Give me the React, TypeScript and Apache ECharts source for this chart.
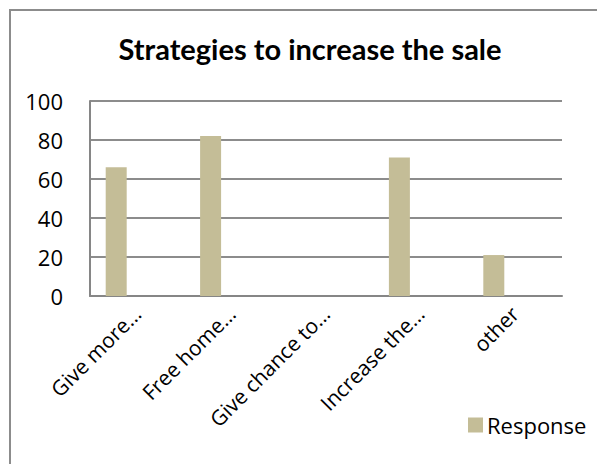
import React, { useEffect, useRef } from "react";
import * as echarts from "echarts";

const categories = ["Give more…", "Free home…", "Give chance to…", "Increase the…", "other"];
const responseValues = [66, 82, 0, 71, 21];
const blankSeriesA = [null, null, null, null, null];
const blankSeriesB = [null, null, null, null, null];
const yTicks = [0, 20, 40, 60, 80, 100];

export default function App() {
  const ref = useRef<HTMLDivElement>(null);
  useEffect(() => {
    if (!ref.current) return;
    const chart = echarts.init(ref.current, null, { renderer: "svg" });
    chart.setOption({
      animation: false,
      backgroundColor: "#ffffff",
      title: {
        text: "Strategies to increase the sale",
        left: 305,
        top: 29,
        textAlign: "center",
        textStyle: { fontFamily: "Lato", fontWeight: "bold", fontSize: 29, color: "#000" },
      },
      graphic: [
        {
          type: "rect",
          shape: { x: 10, y: 10, width: 700, height: 700 },
          style: { fill: "none", stroke: "#8c8c8c", lineWidth: 2 },
          silent: true,
        },
      ],
      legend: {
        data: ["Response"],
        left: 463,
        top: 409,
        itemWidth: 15,
        itemHeight: 15,
        itemGap: 5,
        icon: "rect",
        textStyle: { fontFamily: "Open Sans", fontSize: 22, color: "#000", padding: [0, 0, 0, -1] },
      },
      grid: { left: 90, top: 101, right: 35, bottom: 168, containLabel: false },
      xAxis: {
        type: "category",
        data: categories,
        axisLine: { show: true, lineStyle: { color: "#868686", width: 2 } },
        axisTick: { show: false },
        axisLabel: {
          rotate: 45,
          interval: 0,
          margin: 14,
          fontFamily: "Open Sans",
          fontSize: 21,
          color: "#000",
        },
      },
      yAxis: {
        type: "value",
        min: yTicks[0],
        max: yTicks[yTicks.length - 1],
        interval: 20,
        axisLine: { show: true, lineStyle: { color: "#868686", width: 2 } },
        axisTick: { show: false },
        splitLine: { show: true, lineStyle: { color: "#8c8c8c", width: 2 } },
        axisLabel: { margin: 27, fontFamily: "Open Sans", fontSize: 22, color: "#000" },
      },
      series: [
        {
          name: "Response",
          type: "bar",
          data: responseValues,
          barWidth: 21,
          barGap: "0%",
          itemStyle: { color: "#c4bd97" },
        },
        { name: "s2", type: "bar", data: blankSeriesA, barWidth: 21, barGap: "0%" },
        { name: "s3", type: "bar", data: blankSeriesB, barWidth: 21, barGap: "0%" },
      ],
    });
    return () => chart.dispose();
  }, []);
  return (
    <div
      ref={ref}
      style={{ position: "absolute", left: 0, top: 0, width: 597, height: 464 }}
    />
  );
}
